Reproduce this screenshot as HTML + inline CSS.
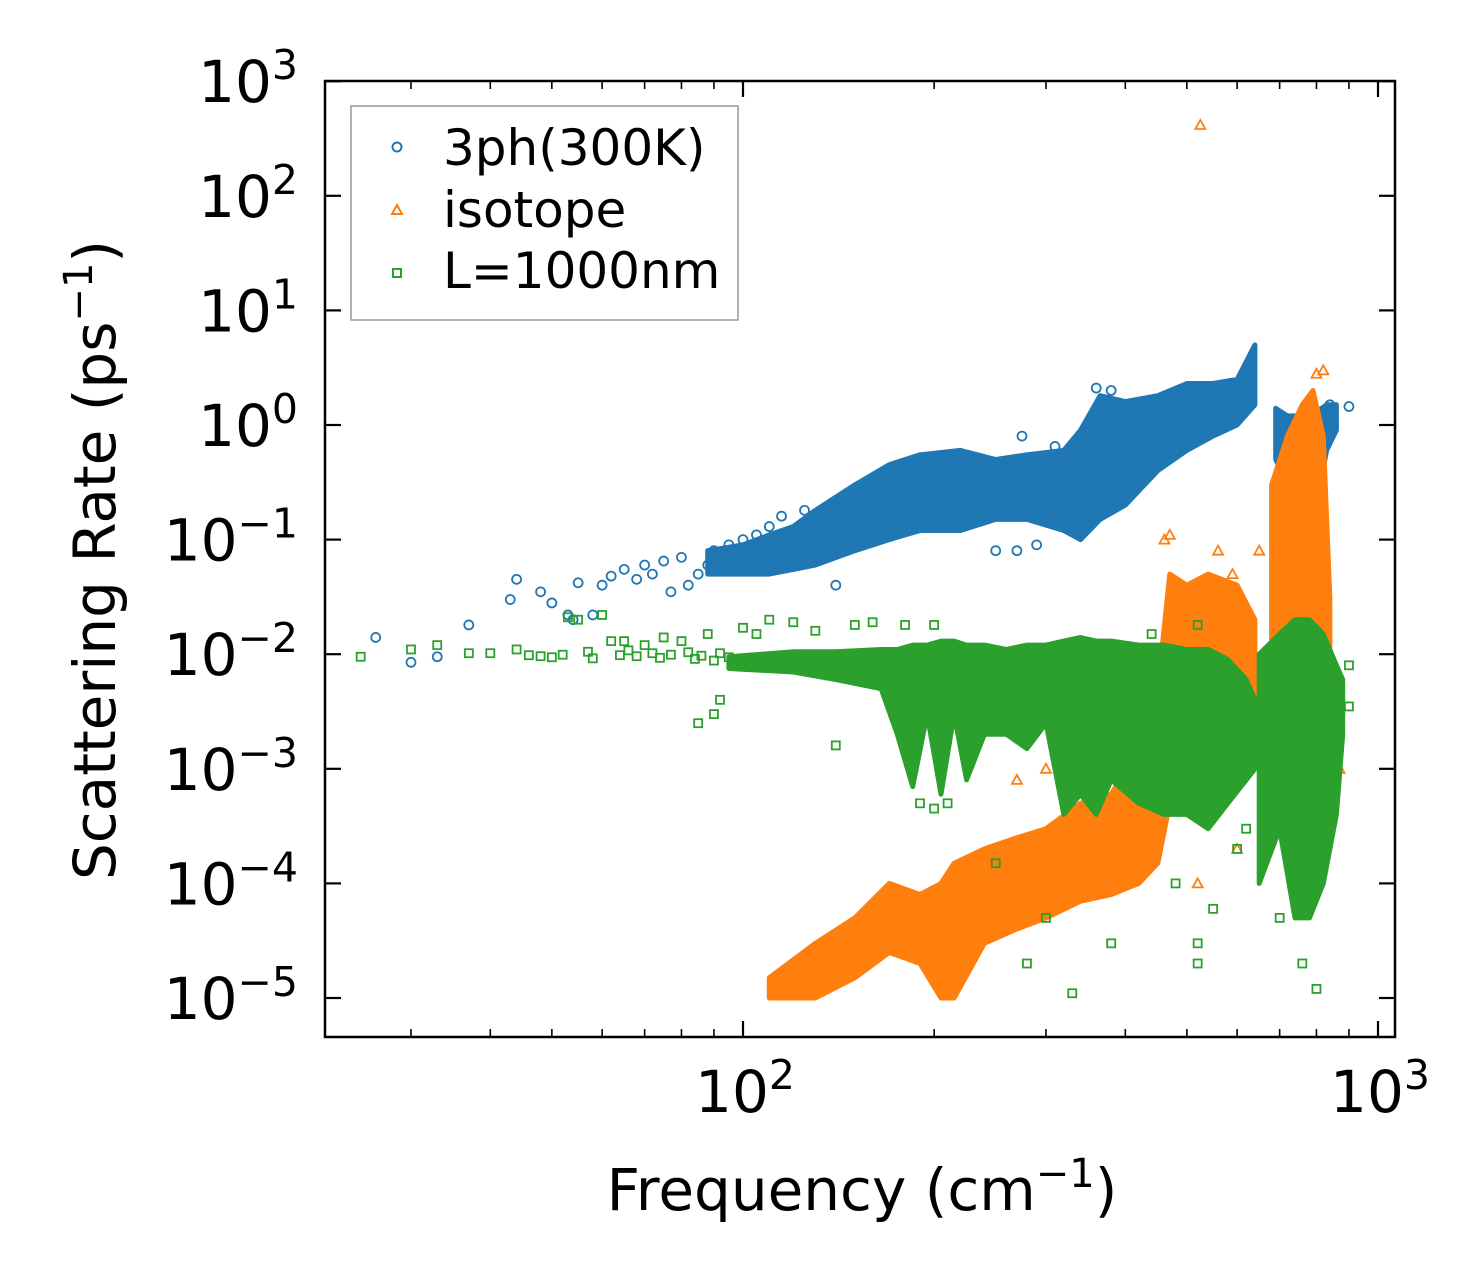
<!DOCTYPE html>
<html><head><meta charset="utf-8"><style>
html,body{margin:0;padding:0;background:#fff}
svg{display:block;font-family:"DejaVu Sans","Liberation Sans",sans-serif}
</style></head><body>
<svg id="chart" width="1483" height="1287" viewBox="0 0 1483 1287" xmlns="http://www.w3.org/2000/svg">
<rect width="1483" height="1287" fill="#fff"/>
<g id="marks"></g>
<g id="axes"></g>
<text transform="translate(115,560) rotate(-90)" text-anchor="middle" font-size="58">Scattering Rate (ps<tspan dy="-23" font-size="40">−1</tspan><tspan dy="23">)</tspan></text>
<text x="862" y="1210" text-anchor="middle" font-size="58">Frequency (cm<tspan dy="-23" font-size="40">−1</tspan><tspan dy="23">)</tspan></text>
<g>
<rect x="351" y="106" width="387" height="214" fill="#fff" stroke="#999" stroke-width="1.5"/>
<circle cx="397" cy="147" r="4.5" fill="none" stroke="#1f77b4" stroke-width="2"/>
<text x="443" y="165" font-size="50">3ph(300K)</text>
<polygon points="397,205 402,214 392,214" fill="none" stroke="#ff7f0e" stroke-width="2"/>
<text x="443" y="227" font-size="50">isotope</text>
<rect x="393" y="269" width="8" height="8" fill="none" stroke="#2ca02c" stroke-width="2"/>
<text x="443" y="288" font-size="50">L=1000nm</text>
</g>
</svg>
<script>
// ---- data ----
const blueBandF  = [88,100,110,120,130,150,170,190,220,250,280,320,340,365,400,450,500,550,600,640];
const blueBandLo = [0.05,0.05,0.05,0.055,0.06,0.08,0.1,0.12,0.12,0.15,0.15,0.12,0.1,0.15,0.2,0.4,0.6,0.8,1.0,1.5];
const blueBandHi = [0.08,0.09,0.11,0.13,0.18,0.3,0.45,0.55,0.6,0.5,0.55,0.6,0.9,1.8,1.6,1.8,2.3,2.3,2.5,5];
const blue2F  = [690,720,760,800,830,860];
const blue2Lo = [0.5,0.3,0.15,0.2,0.6,0.9];
const blue2Hi = [1.4,1.2,1.2,1.3,1.5,1.5];
const blueF = [26.4,30,33,37,43,44,48,50,53,54,55,58,60,62,65,68,70,72,75,77,80,82,85,88,90,95,100,105,110,115,120,125,130,140,250,270,290,275,310,900,840,820,360,380];
const blueV = [0.014,0.0085,0.0095,0.018,0.03,0.045,0.035,0.028,0.022,0.02,0.042,0.022,0.04,0.048,0.055,0.045,0.06,0.05,0.065,0.035,0.07,0.04,0.05,0.06,0.08,0.09,0.1,0.11,0.13,0.16,0.12,0.18,0.07,0.04,0.08,0.08,0.09,0.8,0.65,1.45,1.5,1.3,2.1,2.0];

const orgBandF  = [110,130,150,170,190,205,215,240,270,300,340,380,420,450,470,500,540,600,640];
const orgBandLo = [1e-5,1e-5,1.5e-5,2.5e-5,2e-5,1e-5,1e-5,3e-5,4e-5,5e-5,7e-5,8e-5,1e-4,1.5e-4,5e-4,1e-3,2e-3,1e-3,1e-3];
const orgBandHi = [1.5e-5,3e-5,5e-5,1e-4,8e-5,1e-4,1.5e-4,2e-4,2.5e-4,3e-4,5e-4,6e-4,1.5e-3,5e-3,0.05,0.04,0.05,0.04,0.02];
const org2F  = [680,720,760,790,820,840];
const org2Lo = [1e-3,0.005,0.01,0.005,0.002,0.001];
const org2Hi = [0.3,0.8,1.5,2,0.8,0.03];
const orgF = [525,800,820,870,600,520,300,270,400,461,470,560,590,650];
const orgV = [415,2.8,3.0,1e-3,2e-4,1e-4,1e-3,8e-4,2e-4,0.1,0.11,0.08,0.05,0.08];

const grnBandF  = [95,120,140,165,175,185,195,205,215,225,240,260,280,300,320,340,360,380,420,460,500,540,580,620,640];
const grnBandLo = [0.0075,0.007,0.006,0.005,0.002,0.0007,0.003,0.0006,0.003,0.0008,0.002,0.002,0.0015,0.0025,0.0004,0.0006,0.0004,0.0008,0.0005,0.0004,0.0004,0.0003,0.0005,0.0008,0.001];
const grnBandHi = [0.0095,0.0105,0.0105,0.011,0.011,0.012,0.012,0.013,0.013,0.012,0.012,0.011,0.012,0.012,0.013,0.014,0.013,0.013,0.012,0.012,0.011,0.011,0.009,0.006,0.004];
const grn2F  = [650,700,740,780,820,860,880];
const grn2Lo = [1e-4,3e-4,5e-5,5e-5,1e-4,4e-4,0.002];
const grn2Hi = [0.01,0.015,0.02,0.02,0.015,0.008,0.006];
const grnF = [25,30,33,37,44,53,55,60,62,65,70,75,80,85,88,90,92,100,105,110,120,130,140,150,160,180,200,210,250,280,300,330,380,520,520,550,700,760,800,900,900,520,440,480,600,620,200,190,
  40,46,48,50,52,57,58,64,66,68,72,74,77,82,84,86,90,92,95,98];
const grnV = [0.0095,0.011,0.012,0.0102,0.011,0.021,0.02,0.022,0.013,0.013,0.012,0.014,0.013,0.0025,0.015,0.003,0.004,0.017,0.015,0.02,0.019,0.016,0.0016,0.018,0.019,0.018,0.018,0.0005,0.00015,0.00002,0.00005,0.000011,0.00003,0.00002,0.00003,0.00006,0.00005,0.00002,0.000012,0.0035,0.008,0.018,0.015,0.0001,0.0002,0.0003,0.00045,0.0005,
  0.0102,0.0098,0.0096,0.0094,0.0099,0.0105,0.0092,0.0098,0.0108,0.0096,0.0102,0.0093,0.0099,0.0104,0.0091,0.0097,0.0088,0.0102,0.0094,0.0086];

// ---- scales ----
const L=325,R=1395,T=81,B=1037;
const xs=f=>743+635*Math.log10(f/100);
const ys=v=>998-114.6*(Math.log10(v)+5);
const NS="http://www.w3.org/2000/svg";
const marks=document.getElementById('marks'), axes=document.getElementById('axes');
function mk(tag,attrs,parent){const e=document.createElementNS(NS,tag);for(const k in attrs)e.setAttribute(k,attrs[k]);parent.appendChild(e);return e;}

function band(F,Lo,Hi,color,name){
  const pts=[];
  for(let i=0;i<F.length;i++)pts.push(xs(F[i]).toFixed(1)+','+ys(Hi[i]).toFixed(1));
  for(let i=F.length-1;i>=0;i--)pts.push(xs(F[i]).toFixed(1)+','+ys(Lo[i]).toFixed(1));
  const p=mk('polygon',{points:pts.join(' '),fill:color,stroke:color,'stroke-width':5,'stroke-linejoin':'round'},marks);
  
  
}
function pts(F,V,kind,color,name){
  for(let i=0;i<F.length;i++){
    const x=xs(F[i]),y=ys(V[i]);let e;
    if(kind==='c')e=mk('circle',{cx:x,cy:y,r:4.5,fill:'none',stroke:color,'stroke-width':1.8},marks);
    else if(kind==='t')e=mk('polygon',{points:`${x},${y-5} ${x+5},${y+4} ${x-5},${y+4}`,fill:'none',stroke:color,'stroke-width':1.8},marks);
    else e=mk('rect',{x:x-4,y:y-4,width:8,height:8,fill:'none',stroke:color,'stroke-width':1.8},marks);
    
    
  }
}
band(blueBandF,blueBandLo,blueBandHi,'#1f77b4','3ph-band');
band(blue2F,blue2Lo,blue2Hi,'#1f77b4','3ph-band-high');
pts(blueF,blueV,'c','#1f77b4','3ph-point');
band(orgBandF,orgBandLo,orgBandHi,'#ff7f0e','isotope-band');
band(org2F,org2Lo,org2Hi,'#ff7f0e','isotope-band-high');
pts(orgF,orgV,'t','#ff7f0e','isotope-point');
band(grnBandF,grnBandLo,grnBandHi,'#2ca02c','l1000-band');
band(grn2F,grn2Lo,grn2Hi,'#2ca02c','l1000-band-high');
pts(grnF,grnV,'s','#2ca02c','l1000-point');

// ---- axes ----
const frame=mk('rect',{x:L,y:T,width:R-L,height:B-T,fill:'none',stroke:'#000','stroke-width':2.5},axes);


const yTicks=[3,2,1,0,-1,-2,-3,-4,-5];
for(const p of yTicks){
  const y=ys(Math.pow(10,p));
  mk('line',{x1:L,x2:L+16,y1:y,y2:y,stroke:'#000','stroke-width':2.2},axes);
  mk('line',{x1:R,x2:R-16,y1:y,y2:y,stroke:'#000','stroke-width':2.2},axes);
  const t=mk('text',{x:298,y:y+21,'text-anchor':'end','font-size':58},axes);
  
  
  const sup=p<0?'−'+(-p):String(p);
  t.innerHTML='10<tspan dy="-23" font-size="41">'+sup+'</tspan>';
}
const xMajor=[100,1000];
for(const f of xMajor){
  const x=xs(f);
  mk('line',{x1:x,x2:x,y1:B,y2:B-16,stroke:'#000','stroke-width':2.2},axes);
  mk('line',{x1:x,x2:x,y1:T,y2:T+16,stroke:'#000','stroke-width':2.2},axes);
  const t=mk('text',{x:x+2,y:1112,'text-anchor':'middle','font-size':58},axes);
  
  
  t.innerHTML='10<tspan dy="-23" font-size="41">'+(f===100?'2':'3')+'</tspan>';
}
const xMinor=[30,40,50,60,70,80,90,200,300,400,500,600,700,800,900];
for(const f of xMinor){
  const x=xs(f);
  mk('line',{x1:x,x2:x,y1:B,y2:B-8,stroke:'#000','stroke-width':1.6},axes);
  mk('line',{x1:x,x2:x,y1:T,y2:T+8,stroke:'#000','stroke-width':1.6},axes);
}
</script>
</body></html>
